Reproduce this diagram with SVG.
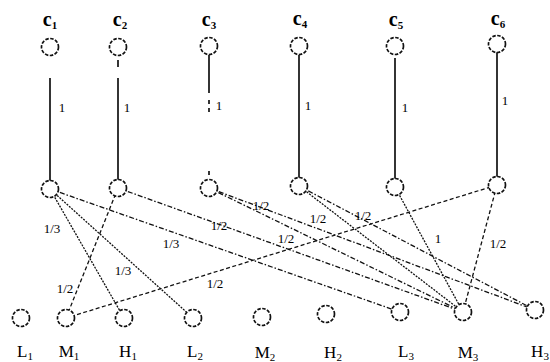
<svg xmlns="http://www.w3.org/2000/svg" width="550" height="362" viewBox="0 0 550 362">
<style>
.n{fill:#fff;stroke:#111;stroke-width:1.7;stroke-dasharray:3.5 1.5}
.v{stroke:#111;stroke-width:1.7;fill:none}
.e{stroke:#111;stroke-width:1.3;fill:none}
.dot{stroke-dasharray:2 1.2}
.dash{stroke-dasharray:4 2.5}
.dd{stroke-dasharray:5 2 1.5 2}
.t{font-family:"Liberation Serif",serif;fill:#000}
.c{font-size:20px;font-weight:bold;text-anchor:middle}
.w{font-size:13px;text-anchor:middle}
.b{font-size:17px;text-anchor:middle}
.s{font-size:11px}
</style>
<g id="connectors">
<line class="v" x1="50" y1="78" x2="50" y2="181"/>
<line class="v" x1="118" y1="60" x2="118" y2="67"/>
<line class="v" x1="118" y1="78" x2="118" y2="180"/>
<line class="v" x1="209" y1="55" x2="209" y2="93"/>
<line class="v" x1="209" y1="100" x2="209" y2="104"/>
<line class="v" x1="209" y1="108" x2="209" y2="112"/>
<line class="v" x1="209" y1="171" x2="209" y2="175"/>
<line class="v" x1="299" y1="55" x2="299" y2="178"/>
<line class="v" x1="395" y1="58" x2="395" y2="179"/>
<line class="v" x1="497" y1="52" x2="497" y2="177"/>
<line class="e dot" x1="50" y1="189" x2="124" y2="318"/>
<line class="e dot" x1="50" y1="189" x2="193" y2="318"/>
<line class="e dd" x1="50" y1="189" x2="400" y2="312"/>
<line class="e dash" x1="118" y1="188" x2="66" y2="318"/>
<line class="e dd" x1="118" y1="188" x2="463" y2="312"/>
<line class="e dd" x1="209" y1="188" x2="535" y2="310"/>
<line class="e dd" x1="209" y1="188" x2="463" y2="312"/>
<line class="e dot" x1="299" y1="186" x2="463" y2="312"/>
<line class="e dd" x1="299" y1="186" x2="535" y2="310"/>
<line class="e dot" x1="395" y1="187" x2="463" y2="312"/>
<line class="e dash" x1="497" y1="185" x2="66" y2="318"/>
<line class="e dash" x1="497" y1="185" x2="463" y2="312"/>
</g>
<g id="edge-labels" class="t w">
<text x="62" y="112">1</text>
<text x="127" y="112">1</text>
<text x="219" y="110">1</text>
<text x="308" y="110">1</text>
<text x="405" y="112">1</text>
<text x="505" y="105">1</text>
<text x="52" y="233">1/3</text>
<text x="123" y="275">1/3</text>
<text x="171" y="248">1/3</text>
<text x="65" y="293">1/2</text>
<text x="219" y="230">1/2</text>
<text x="261" y="210">1/2</text>
<text x="286" y="243">1/2</text>
<text x="215" y="288">1/2</text>
<text x="318" y="223">1/2</text>
<text x="363" y="220">1/2</text>
<text x="438" y="243">1</text>
<text x="498" y="248">1/2</text>
</g>
<g id="c1"><circle class="n" cx="50" cy="47" r="8.5"/><text class="t c" x="50" y="26">c<tspan class="s" dy="3">1</tspan></text></g>
<g id="c2"><circle class="n" cx="118" cy="47" r="8.5"/><text class="t c" x="120" y="26">c<tspan class="s" dy="3">2</tspan></text></g>
<g id="c3"><circle class="n" cx="209" cy="46" r="8.5"/><text class="t c" x="209" y="26">c<tspan class="s" dy="3">3</tspan></text></g>
<g id="c4"><circle class="n" cx="299" cy="46" r="8.5"/><text class="t c" x="300" y="25">c<tspan class="s" dy="3">4</tspan></text></g>
<g id="c5"><circle class="n" cx="395" cy="46" r="8.5"/><text class="t c" x="396" y="26">c<tspan class="s" dy="3">5</tspan></text></g>
<g id="c6"><circle class="n" cx="497" cy="44" r="8.5"/><text class="t c" x="498" y="25">c<tspan class="s" dy="3">6</tspan></text></g>
<g id="m1"><circle class="n" cx="50" cy="189" r="8.5"/></g>
<g id="m2"><circle class="n" cx="118" cy="188" r="8.5"/></g>
<g id="m3"><circle class="n" cx="209" cy="188" r="8.5"/></g>
<g id="m4"><circle class="n" cx="299" cy="186" r="8.5"/></g>
<g id="m5"><circle class="n" cx="395" cy="187" r="8.5"/></g>
<g id="m6"><circle class="n" cx="497" cy="185" r="8.5"/></g>
<g id="L1"><circle class="n" cx="21" cy="318" r="8.5"/><text class="t b" x="25" y="357">L<tspan class="s" dy="3">1</tspan></text></g>
<g id="M1"><circle class="n" cx="66" cy="318" r="8.5"/><text class="t b" x="69" y="357">M<tspan class="s" dy="3">1</tspan></text></g>
<g id="H1"><circle class="n" cx="124" cy="318" r="8.5"/><text class="t b" x="128" y="357">H<tspan class="s" dy="3">1</tspan></text></g>
<g id="L2"><circle class="n" cx="193" cy="318" r="8.5"/><text class="t b" x="195" y="357">L<tspan class="s" dy="3">2</tspan></text></g>
<g id="M2"><circle class="n" cx="262" cy="317" r="8.5"/><text class="t b" x="265" y="358">M<tspan class="s" dy="3">2</tspan></text></g>
<g id="H2"><circle class="n" cx="326" cy="314" r="8.5"/><text class="t b" x="333" y="358">H<tspan class="s" dy="3">2</tspan></text></g>
<g id="L3"><circle class="n" cx="400" cy="312" r="8.5"/><text class="t b" x="406" y="357">L<tspan class="s" dy="3">3</tspan></text></g>
<g id="M3"><circle class="n" cx="463" cy="312" r="8.5"/><text class="t b" x="468" y="358">M<tspan class="s" dy="3">3</tspan></text></g>
<g id="H3"><circle class="n" cx="535" cy="310" r="8.5"/><text class="t b" x="540" y="357">H<tspan class="s" dy="3">3</tspan></text></g>
</svg>
